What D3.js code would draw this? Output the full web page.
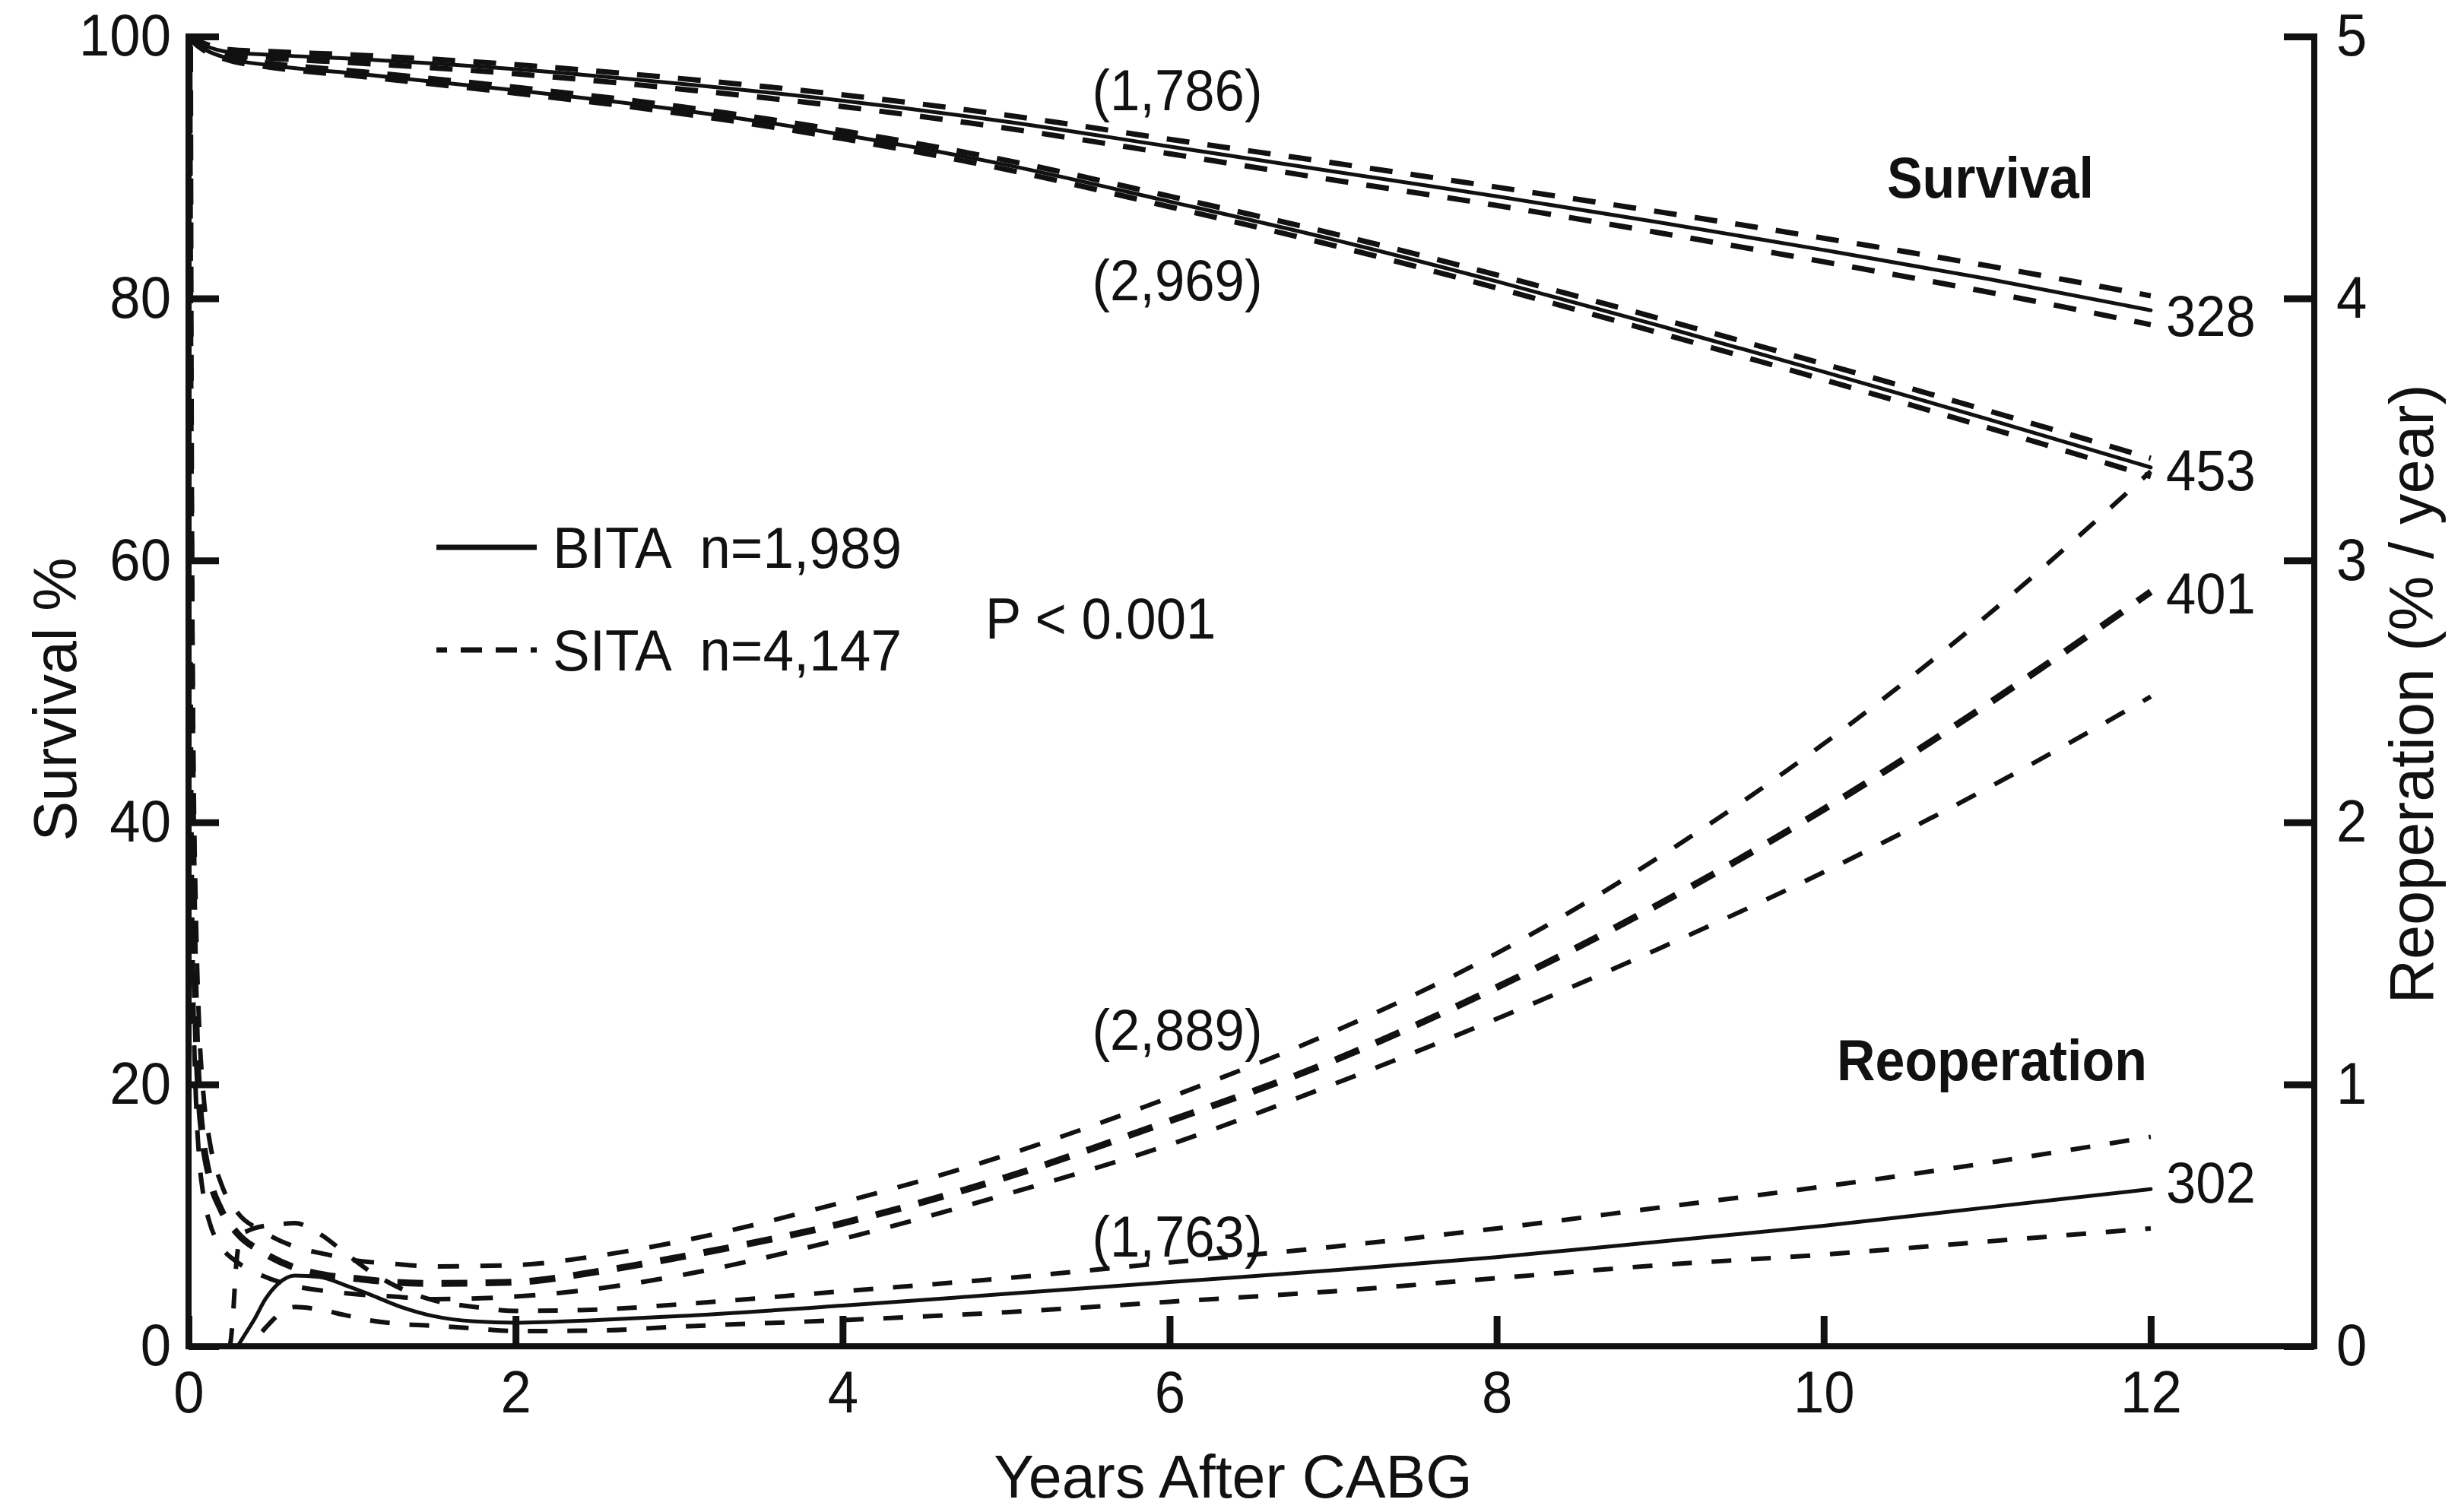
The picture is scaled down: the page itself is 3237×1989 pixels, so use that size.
<!DOCTYPE html>
<html>
<head>
<meta charset="utf-8">
<script src="https://cdn.jsdelivr.net/npm/d3@7"></script>
<style>
  html, body { margin: 0; padding: 0; background: #fff; }
  svg { display: block; }
  text { font-family: "Liberation Sans", Arial, Helvetica, sans-serif; fill: #111; }
</style>
</head>
<body>
<svg id="chart" width="3237" height="1989"></svg>
<script>
// ---- Survival (%), left axis ----
const survYears = [0, 0.05, 0.1, 0.25, 0.5, 1, 2, 3, 4, 5, 6, 7, 8, 9, 10, 11, 12];
const survBita      = [100, 99.6, 99.3, 98.8, 98.6, 98.3, 97.5, 96.4, 95.1, 93.5, 91.6, 89.7, 87.8, 85.8, 83.7, 81.5, 79.1];
const survBitaUpper = [100, 99.7, 99.45, 99.0, 98.85, 98.6, 97.85, 96.8, 95.55, 94.0, 92.15, 90.35, 88.5, 86.6, 84.6, 82.5, 80.2];
const survBitaLower = [100, 99.5, 99.15, 98.6, 98.35, 98.0, 97.15, 96.0, 94.65, 93.0, 91.05, 89.05, 87.1, 85.0, 82.8, 80.5, 78.0];
const survSita      = [100, 99.4, 99.0, 98.3, 97.8, 97.2, 95.9, 94.4, 92.5, 90.2, 87.4, 84.5, 81.3, 77.9, 74.4, 70.8, 67.1];
const survSitaUpper = [100, 99.45, 99.1, 98.42, 97.95, 97.38, 96.12, 94.66, 92.8, 90.55, 87.8, 84.95, 81.8, 78.45, 75.0, 71.45, 67.8];
const survSitaLower = [100, 99.35, 98.9, 98.18, 97.65, 97.02, 95.68, 94.14, 92.2, 89.85, 87.0, 84.05, 80.8, 77.35, 73.8, 70.15, 66.4];

// ---- Reoperation hazard (% / year), right axis ----
const reopSitaYears = [0.006, 0.01, 0.015, 0.02, 0.03, 0.045, 0.065, 0.09, 0.13, 0.2, 0.3, 0.45, 0.65, 0.85, 1, 1.25, 1.5, 2, 2.5, 3, 4, 5, 6, 7, 8, 9, 10, 11, 12];
const reopSita      = [5.3, 4.0, 3.0, 2.4, 1.75, 1.25, 0.95, 0.78, 0.64, 0.52, 0.43, 0.36, 0.30, 0.27, 0.26, 0.245, 0.24, 0.245, 0.285, 0.34, 0.47, 0.645, 0.86, 1.09, 1.37, 1.69, 2.05, 2.45, 2.88];
const reopSitaUpper = [6.5, 5.0, 3.9, 3.1, 2.25, 1.65, 1.22, 0.97, 0.78, 0.62, 0.51, 0.44, 0.38, 0.35, 0.33, 0.315, 0.305, 0.31, 0.345, 0.40, 0.55, 0.73, 0.95, 1.20, 1.50, 1.87, 2.30, 2.79, 3.34];
const reopSitaLower = [4.4, 3.1, 2.3, 1.8, 1.3, 0.95, 0.72, 0.58, 0.47, 0.38, 0.32, 0.27, 0.23, 0.21, 0.20, 0.19, 0.18, 0.19, 0.22, 0.27, 0.41, 0.58, 0.77, 1.00, 1.25, 1.52, 1.81, 2.13, 2.48];

const reopBitaYears = [0, 0.25, 0.27, 0.29, 0.31, 0.33, 0.36, 0.4, 0.47, 0.55, 0.65, 0.8, 0.95, 1.1, 1.3, 1.5, 1.75, 2, 2.5, 3, 4, 5, 6, 7, 8, 9, 10, 11, 12];
const reopBita      = [0, 0, 0, 0, 0.01, 0.03, 0.06, 0.10, 0.18, 0.24, 0.27, 0.265, 0.235, 0.20, 0.15, 0.115, 0.095, 0.09, 0.10, 0.115, 0.155, 0.20, 0.245, 0.29, 0.34, 0.40, 0.46, 0.53, 0.60];
const reopBitaUpper = [0, 0, 0.1, 0.3, 0.40, 0.43, 0.44, 0.45, 0.46, 0.465, 0.47, 0.43, 0.36, 0.29, 0.22, 0.175, 0.15, 0.135, 0.14, 0.16, 0.21, 0.26, 0.32, 0.38, 0.45, 0.53, 0.61, 0.70, 0.80];
const reopBitaLower = [0, 0, 0, 0, 0, 0, 0.005, 0.02, 0.07, 0.12, 0.15, 0.14, 0.12, 0.10, 0.085, 0.078, 0.068, 0.058, 0.06, 0.075, 0.10, 0.13, 0.17, 0.21, 0.26, 0.31, 0.35, 0.40, 0.45];

// ---- Axis ticks ----
const xTicks = [0, 2, 4, 6, 8, 10, 12];
const leftTicks = [0, 20, 40, 60, 80, 100];
const rightTicks = [0, 1, 2, 3, 4, 5];

// ---- Numbers at risk and end-of-curve counts ----
const atRiskLabels = [
  { text: "(1,786)", t: 6.0, axis: "L", v: 95.9 },
  { text: "(2,969)", t: 6.0, axis: "L", v: 81.4 },
  { text: "(2,889)", t: 6.0, axis: "R", v: 1.21 },
  { text: "(1,763)", t: 6.0, axis: "R", v: 0.42 }
];
const endLabels = [
  { text: "328", axis: "L", v: 78.7 },
  { text: "453", axis: "L", v: 66.9 },
  { text: "401", axis: "R", v: 2.875 },
  { text: "302", axis: "R", v: 0.625 }
];

const svg = d3.select("#chart");
const plotL = 248, plotR = 3044, plotT = 48, plotB = 1771;

const x = d3.scaleLinear().domain([0, 13]).range([plotL, plotR]);
const yL = d3.scaleLinear().domain([0, 100]).range([plotB, plotT]);
const yR = d3.scaleLinear().domain([0, 5]).range([plotB, plotT]);

const ink = "#111";

function condense(sel, k) {
  sel.each(function () {
    const w = this.getComputedTextLength();
    if (w > 0) d3.select(this).attr("textLength", w * k).attr("lengthAdjust", "spacingAndGlyphs");
  });
}

svg.append("defs").append("clipPath").attr("id", "plotClip")
  .append("rect").attr("x", plotL).attr("y", plotT).attr("width", plotR - plotL).attr("height", plotB - plotT);

const pair = (ts, vs) => ts.map((t, i) => [t, vs[i]]);
const lineL = d3.line().x(d => x(d[0])).y(d => yL(d[1])).curve(d3.curveMonotoneX);
const lineR = d3.line().x(d => x(d[0])).y(d => yR(d[1])).curve(d3.curveMonotoneX);

const curves = svg.append("g").attr("clip-path", "url(#plotClip)")
  .attr("fill", "none").attr("stroke", ink);

function drawCurve(gen, data, width, dash) {
  const p = curves.append("path").attr("d", gen(data)).attr("stroke-width", width)
    .attr("stroke-linejoin", "round");
  if (dash) p.attr("stroke-dasharray", dash); else p.attr("stroke-linecap", "round");
  return p;
}

// Survival confidence bands (dashed) and estimates (solid)
drawCurve(lineL, pair(survYears, survBitaUpper), 7, "30,24");
drawCurve(lineL, pair(survYears, survBitaLower), 7, "30,24");
drawCurve(lineL, pair(survYears, survSitaUpper), 7, "30,24");
drawCurve(lineL, pair(survYears, survSitaLower), 7, "30,24");
drawCurve(lineL, pair(survYears, survBita), 5);
drawCurve(lineL, pair(survYears, survSita), 5);

// Reoperation hazard: SITA (dashed) with dashed limits
drawCurve(lineR, pair(reopSitaYears, reopSitaUpper), 6, "28,28");
drawCurve(lineR, pair(reopSitaYears, reopSitaLower), 6, "28,28");
drawCurve(lineR, pair(reopSitaYears, reopSita), 9, "34,24");
// Reoperation hazard: BITA (solid) with dashed limits
drawCurve(lineR, pair(reopBitaYears, reopBitaUpper), 6, "26,26");
drawCurve(lineR, pair(reopBitaYears, reopBitaLower), 6, "26,26");
drawCurve(lineR, pair(reopBitaYears, reopBita), 5);

// ---- Axes ----
svg.append("path")
  .attr("d", `M${plotL},${plotT}V${plotB}H${plotR}V${plotT}`)
  .attr("fill", "none").attr("stroke", ink).attr("stroke-width", 8)
  .attr("stroke-linecap", "square").attr("stroke-linejoin", "miter");

const tickFont = 78, tickK = 0.93;

const gx = svg.append("g").attr("transform", `translate(0,${plotB})`)
  .call(d3.axisBottom(x).tickValues(xTicks).tickSize(-40).tickPadding(32).tickFormat(d3.format("d")));
const gl = svg.append("g").attr("transform", `translate(${plotL},0)`)
  .call(d3.axisLeft(yL).tickValues(leftTicks).tickSize(-40).tickPadding(23).tickFormat(d3.format("d")));
const gr = svg.append("g").attr("transform", `translate(${plotR},0)`)
  .call(d3.axisRight(yR).tickValues(rightTicks).tickSize(-40).tickPadding(29).tickFormat(d3.format("d")));

[gx, gl, gr].forEach(g => {
  g.select(".domain").remove();
  g.selectAll(".tick line").attr("stroke", ink).attr("stroke-width", 9);
  g.selectAll(".tick text").attr("fill", ink).attr("font-size", tickFont)
    .attr("font-family", '"Liberation Sans", Arial, sans-serif');
  condense(g.selectAll(".tick text"), tickK);
});

// Axis titles
svg.append("text").attr("x", 1622).attr("y", 1970).attr("text-anchor", "middle")
  .attr("font-size", 79).text("Years After CABG");

svg.append("text").attr("transform", `translate(100,920) rotate(-90)`)
  .attr("text-anchor", "middle").attr("font-size", 79).text("Survival %");

svg.append("text").attr("transform", `translate(3200,913) rotate(-90)`)
  .attr("text-anchor", "middle").attr("font-size", 81).text("Reoperation (% / year)");

// ---- Panel labels ----
const labelK = 0.93;
const boldLabels = svg.append("g");
boldLabels.append("text").attr("x", 2618).attr("y", 233).attr("dy", "0.35em")
  .attr("text-anchor", "middle").attr("font-size", 76).attr("font-weight", "bold").text("Survival");
boldLabels.append("text").attr("x", 2620).attr("y", 1394).attr("dy", "0.35em")
  .attr("text-anchor", "middle").attr("font-size", 76).attr("font-weight", "bold").text("Reoperation");
condense(boldLabels.selectAll("text"), 0.92);

const riskG = svg.append("g");
riskG.selectAll("text").data(atRiskLabels).join("text")
  .attr("x", d => x(d.t) + 10)
  .attr("y", d => (d.axis === "L" ? yL(d.v) : yR(d.v)))
  .attr("dy", "0.35em").attr("text-anchor", "middle").attr("font-size", 76)
  .text(d => d.text);
condense(riskG.selectAll("text"), labelK);

const endG = svg.append("g");
endG.selectAll("text").data(endLabels).join("text")
  .attr("x", x(12) + 20)
  .attr("y", d => (d.axis === "L" ? yL(d.v) : yR(d.v)))
  .attr("dy", "0.35em").attr("font-size", 76)
  .text(d => d.text);
condense(endG.selectAll("text"), labelK);

// ---- Legend ----
const legend = svg.append("g");
legend.append("line").attr("x1", 574).attr("x2", 706).attr("y1", 720).attr("y2", 720)
  .attr("stroke", ink).attr("stroke-width", 7);
legend.append("line").attr("x1", 574).attr("x2", 706).attr("y1", 855).attr("y2", 855)
  .attr("stroke", ink).attr("stroke-width", 7).attr("stroke-dasharray", "14,18,28,18,28,18,14");
const legendRows = legend.append("g");
legendRows.append("text").attr("x", 727).attr("y", 720).attr("dy", "0.35em")
  .attr("font-size", 76).style("white-space", "pre").text("BITA  n=1,989");
legendRows.append("text").attr("x", 727).attr("y", 855).attr("dy", "0.35em")
  .attr("font-size", 76).style("white-space", "pre").text("SITA  n=4,147");
condense(legendRows.selectAll("text"), 0.96);
const pText = legend.append("text").attr("x", 1296).attr("y", 813).attr("dy", "0.35em")
  .attr("font-size", 76).text("P < 0.001");
condense(pText, labelK);
</script>
</body>
</html>
